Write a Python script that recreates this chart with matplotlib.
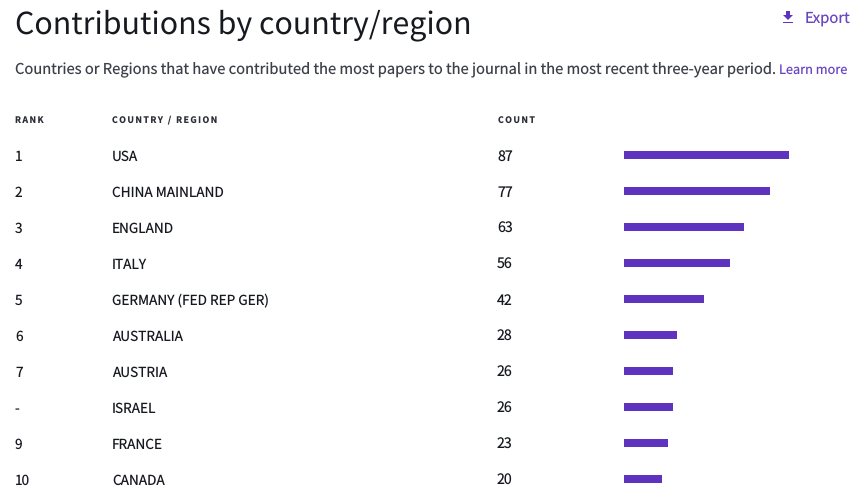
import matplotlib
matplotlib.use('Agg')
import matplotlib.pyplot as plt
from matplotlib.patches import Polygon, Rectangle
from matplotlib.transforms import blended_transform_factory

# Noto Sans CJK has Source Sans style latin letters
plt.rcParams['font.family'] = ['Noto Sans CJK SC', 'DejaVu Sans']
plt.rcParams['text.hinting'] = 'no_hinting'

ranks = ['1', '2', '3', '4', '5', '6', '7', '-', '9', '10']
countries = ['USA', 'CHINA MAINLAND', 'ENGLAND', 'ITALY', 'GERMANY (FED REP GER)',
             'AUSTRALIA', 'AUSTRIA', 'ISRAEL', 'FRANCE', 'CANADA']
counts = [87, 77, 63, 56, 42, 28, 26, 26, 23, 20]

W, H = 853, 504
purple = '#5E33BF'
link = '#6A45C2'
dark = '#16191f'

fig = plt.figure(figsize=(W / 100, H / 100), dpi=100, facecolor='white')


def px(x, y):
    return x / W, 1 - y / H


def label(x, y, s, **kw):
    fig.text(*px(x, y), s, va='center', **kw)


# bar axes, pixel box picked so rows land 36px apart starting at y=155
ax_left, ax_right = 624, 853
ax_top, ax_bottom = 137, 497
ax = fig.add_axes([ax_left / W, 1 - ax_bottom / H, (ax_right - ax_left) / W, (ax_bottom - ax_top) / H])
ax.set_xlim(0, (ax_right - ax_left) / 1.897)
ax.set_ylim(9.5, -0.5)
ax.axis('off')
ax.barh(range(len(counts)), counts, height=8 / 36, color=purple)

# table rows
trans = blended_transform_factory(fig.transFigure, ax.transData)
for i in range(len(counts)):
    ax.text(15 / W, i + 0.06, ranks[i], transform=trans, va='center', fontsize=9.8, color=dark, clip_on=False)
    ax.text(112 / W, i + 0.06, countries[i], transform=trans, va='center', fontsize=9.8, color=dark, clip_on=False)
    ax.text(497 / W, i + 0.06, str(counts[i]), transform=trans, va='center', fontsize=10.2, color=dark, clip_on=False)

# header
label(15, 25.5, 'Contributions by country/region', fontsize=21.85, color=dark)
label(15, 70, 'Countries or Regions that have contributed the most papers to the journal in the most recent three-year period.',
      fontsize=10.6, color='#3c4048')
label(779, 70.5, 'Learn more', fontsize=9.2, color=link)
label(805, 18, 'Export', fontsize=10.7, color=link)

# letterspaced column heads, six-per-em space between letters
head = dict(fontsize=6.3, color='#2c2f36', fontweight='bold')
for x, s in [(15, 'RANK'), (112, 'COUNTRY / REGION'), (498, 'COUNT')]:
    label(x, 120, '\u2006'.join(s), **head)

# download icon
arrow = [(786, 11), (790, 11), (790, 15), (793, 15), (788, 20), (783, 15), (786, 15)]
fig.add_artist(Polygon([px(*p) for p in arrow], closed=True, color=purple, transform=fig.transFigure, lw=0))
fig.add_artist(Rectangle(px(783, 23), 10 / W, 1.4 / H, color=purple, transform=fig.transFigure, lw=0))

fig.savefig('out.png', dpi=100)
